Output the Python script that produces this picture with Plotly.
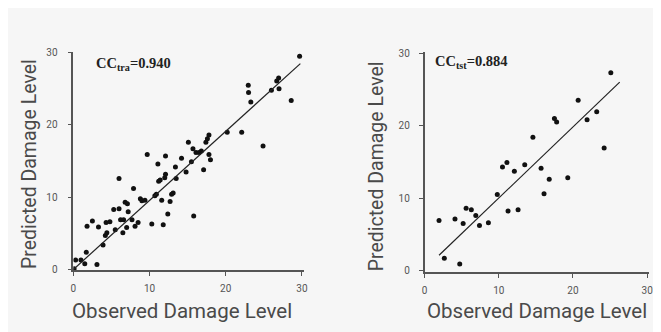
import plotly.graph_objects as go

# ---- training set (observed vs predicted) ----
train_obs = [0.1, 0.3, 1.0, 1.5, 1.7, 3.1, 1.8, 2.5, 3.3, 3.9, 4.2, 4.4, 4.3, 4.8, 5.3, 5.5,
             6.0, 6.0, 6.2, 6.6, 6.5, 6.8, 7.1, 7.0, 7.2, 7.7, 7.9, 8.1, 8.5, 8.8, 9.0, 9.4,
             9.7, 10.3, 10.7, 10.9, 11.1, 11.2, 11.4, 11.6, 11.8, 12.0, 12.1, 12.1, 12.4, 12.7,
             12.9, 13.1, 13.4, 13.5, 14.2, 14.8, 15.1, 15.5, 15.7, 15.8, 16.1, 16.5, 16.8, 17.1,
             17.4, 17.6, 17.8, 17.8, 18.0, 20.2, 22.1, 22.96, 23.0, 23.3, 24.9, 26.0, 26.7,
             26.95, 27.0, 28.6, 29.7]
train_pred = [0.1, 1.3, 1.3, 0.8, 2.4, 0.7, 6.0, 6.7, 5.9, 3.4, 4.7, 5.1, 6.5, 6.6, 8.3, 5.5,
              8.4, 12.6, 6.9, 6.9, 5.1, 9.3, 9.1, 5.8, 8.0, 6.9, 11.2, 6.0, 6.5, 9.8, 9.5, 9.6,
              15.9, 6.3, 10.2, 10.4, 14.6, 12.2, 12.4, 9.6, 6.2, 12.7, 15.7, 13.2, 7.7, 9.4,
              10.4, 10.6, 14.2, 12.6, 15.4, 13.5, 17.6, 14.9, 16.7, 7.4, 16.2, 16.2, 16.4, 13.8,
              17.6, 18.1, 18.6, 15.9, 15.2, 19.0, 19.0, 25.5, 24.5, 23.2, 17.1, 24.8, 26.1,
              26.5, 25.0, 23.4, 29.5]
train_fit_x = [0.0, 29.8]
train_fit_y = [0.0, 28.5]

# ---- testing set ----
test_obs = [1.95, 2.66, 4.1, 4.74, 5.2, 5.6, 6.3, 6.9, 7.4, 8.6, 9.8, 10.5, 11.1, 11.25, 12.1,
            12.6, 13.5, 14.6, 15.7, 16.1, 16.8, 17.5, 17.8, 19.3, 20.7, 21.9, 23.2, 24.2, 25.1]
test_pred = [6.9, 1.7, 7.1, 0.9, 6.5, 8.6, 8.4, 7.6, 6.2, 6.6, 10.5, 14.3, 14.9, 8.2, 13.7,
             8.4, 14.6, 18.4, 14.1, 10.6, 12.6, 21.0, 20.5, 12.8, 23.5, 20.8, 21.9, 16.9, 27.3]
test_fit_x = [1.95, 26.3]
test_fit_y = [2.1, 26.0]

tick_vals = [0, 10, 20, 30]
tick_text = ["0", "10", "20", "30"]

W, H = 661, 332
def px(x): return x / W
def py(y): return 1 - y / H

xtitle_font = dict(family="Roboto, sans-serif", size=20.5, color="#4a4a4a")
ytitle_font = dict(family="Roboto, sans-serif", size=19.5, color="#4a4a4a")
tick_font = dict(family="Roboto, sans-serif", size=10, color="#555555")
cc_font = dict(family="Liberation Serif, serif", size=14.5, color="#222222")

fig = go.Figure()
fig.add_trace(go.Scatter(x=train_obs, y=train_pred, mode="markers",
                         marker=dict(color="#111111", size=5), xaxis="x", yaxis="y", showlegend=False))
fig.add_trace(go.Scatter(x=train_fit_x, y=train_fit_y, mode="lines",
                         line=dict(color="#222222", width=1.2), xaxis="x", yaxis="y", showlegend=False))
fig.add_trace(go.Scatter(x=test_obs, y=test_pred, mode="markers",
                         marker=dict(color="#111111", size=5), xaxis="x2", yaxis="y2", showlegend=False))
fig.add_trace(go.Scatter(x=test_fit_x, y=test_fit_y, mode="lines",
                         line=dict(color="#222222", width=1.2), xaxis="x2", yaxis="y2", showlegend=False))

axis_common = dict(showgrid=False, zeroline=False, showline=True, linecolor="#555555", linewidth=1.5,
                   ticks="outside", ticklen=4, tickcolor="#555555", tickfont=tick_font,
                   tickvals=tick_vals, ticktext=tick_text)

fig.update_layout(
    width=W, height=H, margin=dict(l=0, r=0, t=0, b=0),
    paper_bgcolor="#f6f6f6", plot_bgcolor="#f6f6f6",
    xaxis=dict(domain=[px(63), px(296)], range=[0, 30.26], anchor="y", ticklabelstandoff=4, **axis_common),
    yaxis=dict(domain=[py(265), py(40)], range=[-0.07, 30.13], anchor="x", ticklabelstandoff=8, **axis_common),
    xaxis2=dict(domain=[px(418), px(645)], range=[0, 30.27], anchor="y2", ticklabelstandoff=4, **axis_common),
    yaxis2=dict(domain=[py(267), py(40)], range=[-0.2, 30.19], anchor="x2", ticklabelstandoff=7, **axis_common),
)

ann = [
    dict(text="Predicted Damage Level", x=px(19), y=py(156), textangle=-90, font=ytitle_font),
    dict(text="Predicted Damage Level", x=px(369), y=py(158), textangle=-90, font=ytitle_font),
    dict(text="Observed Damage Level", x=px(173), y=py(307), font=xtitle_font),
    dict(text="Observed Damage Level", x=px(532), y=py(307), font=xtitle_font),
    dict(text="<b>CC<sub>tra</sub>=0.940</b>", x=px(124), y=py(53), font=cc_font),
    dict(text="<b>CC<sub>tst</sub>=0.884</b>", x=px(465), y=py(51), font=cc_font),
]
for a in ann:
    fig.add_annotation(xref="paper", yref="paper", showarrow=False, xanchor="center", yanchor="middle", **a)

fig.write_html("out.html")
